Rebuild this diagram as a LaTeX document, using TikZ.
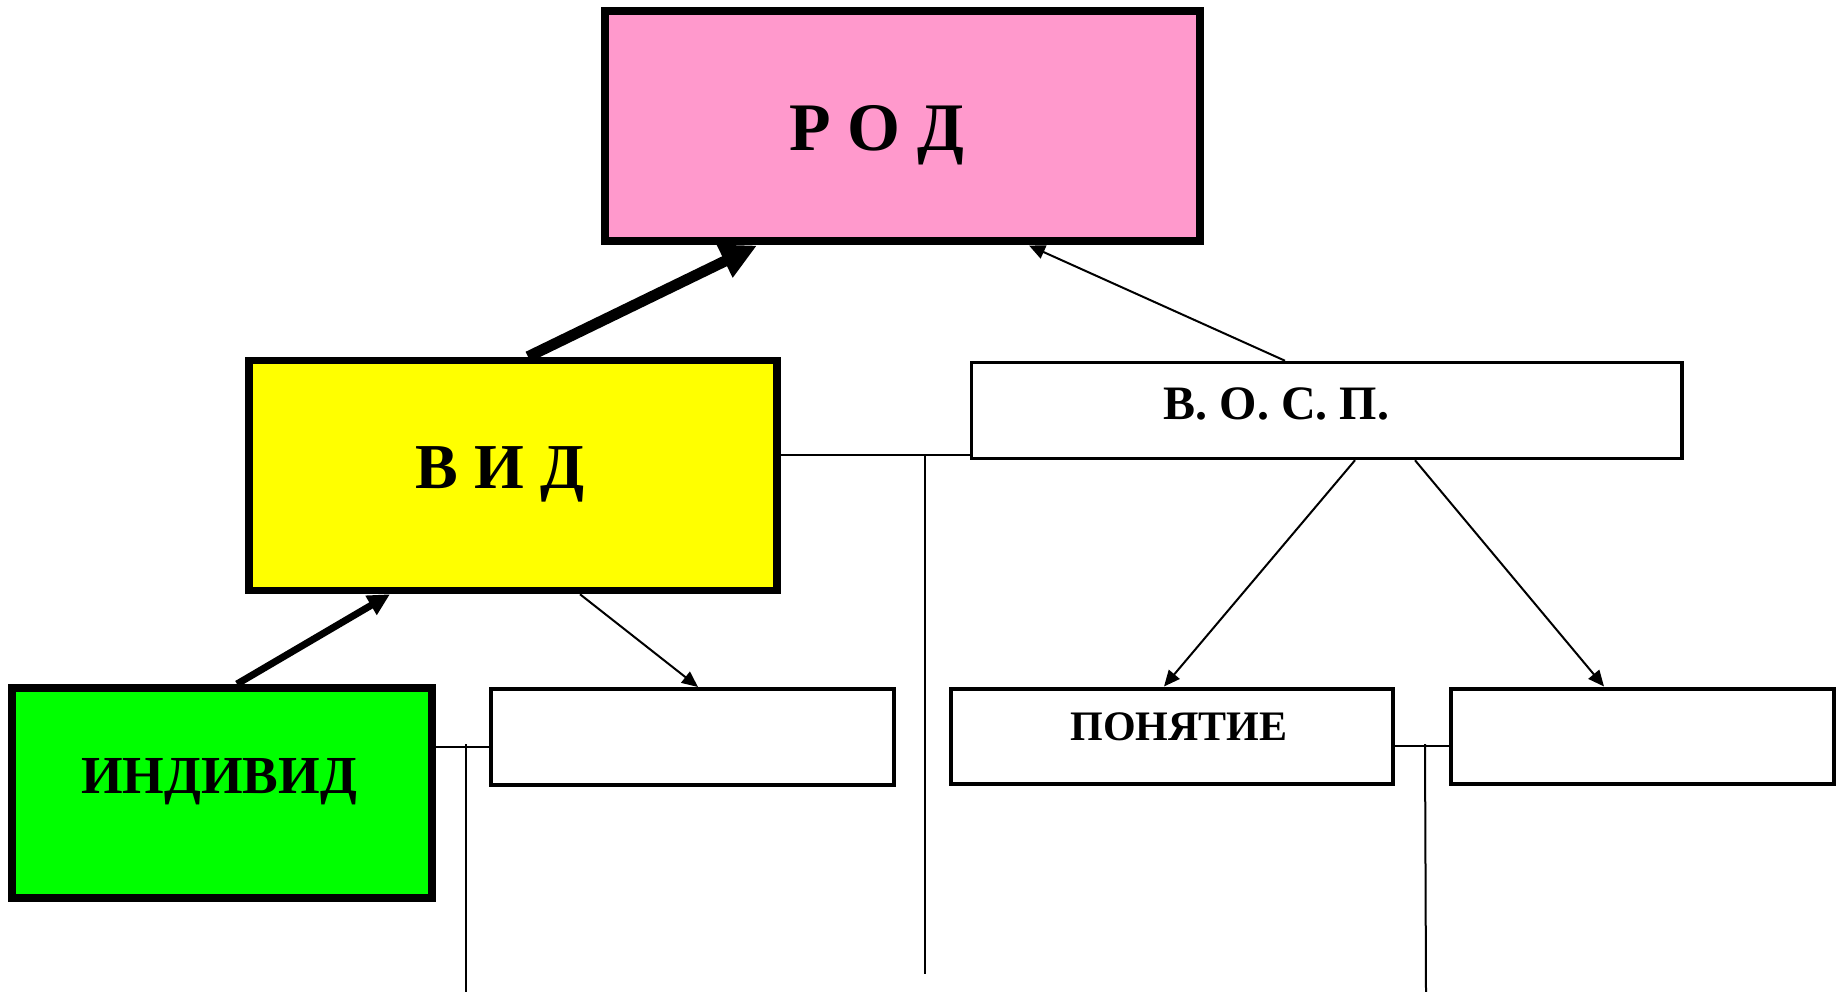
\documentclass[tikz,border=0pt]{standalone}
\usepackage{fontspec}
\setmainfont{Liberation Serif}
\usetikzlibrary{arrows.meta}
\definecolor{rodpink}{HTML}{FF99CC}
\definecolor{vidyellow}{HTML}{FFFF00}
\definecolor{indgreen}{HTML}{00FF00}
\tikzset{
  box/.style={draw=black, rectangle, inner sep=0pt, outer sep=auto},
  bigbox/.style={box, line width=8pt},
  smallbox/.style={box, line width=4pt, fill=white},
  lbl/.style={inner sep=0pt, anchor=base, font=\bfseries},
  conn/.style={line width=2pt, draw=black},
  thinarrow/.style={conn, -{Triangle[length=16pt,width=14pt]}},
}
\begin{document}
\begin{tikzpicture}[x=1pt, y=-1pt]
  \useasboundingbox (0,0) rectangle (1839,992);
  \fill[white] (0,0) rectangle (1839,992);

  % boxes
  \node[bigbox, fill=rodpink, minimum width=594.5pt, minimum height=230pt] (rod) at (902.25,126.5) {};
  \node[bigbox, line width=7.5pt, fill=vidyellow, minimum width=528pt, minimum height=230pt] (vid) at (513,475.5) {};
  \node[bigbox, fill=indgreen, minimum width=419.5pt, minimum height=209.5pt] (ind) at (221.75,792.75) {};
  \node[smallbox, line width=3.5pt, minimum width=710.5pt, minimum height=96pt] (vosp) at (1326.75,410.5) {};
  \node[smallbox, minimum width=403pt, minimum height=96pt] (e1) at (692.5,737) {};
  \node[smallbox, minimum width=442pt, minimum height=95.5pt] (pon) at (1172,736.25) {};
  \node[smallbox, minimum width=383pt, minimum height=95.5pt] (e2) at (1642.5,736.25) {};

  % labels
  \node[lbl, font=\bfseries\fontsize{68}{80}\selectfont] (rodtxt) at (877,151) {Р О Д};
  \node[lbl, font=\bfseries\fontsize{64}{75}\selectfont] (vidtxt) at (500,488) {В И Д};
  \node[lbl, font=\bfseries\fontsize{53.5}{62}\selectfont] (indtxt) at (219,793) {ИНДИВИД};
  \node[lbl, font=\bfseries\fontsize{48}{56}\selectfont] (vosptxt) at (1276.5,419) {В. О. С. П.};
  \node[lbl, font=\bfseries\fontsize{42}{50}\selectfont] (pontxt) at (1179,740) {ПОНЯТИЕ};

  % thick arrows up the hierarchy
  \draw[line width=11pt, -{Triangle[length=36pt,width=34pt]}]
    ([xshift=15pt]vid.north) -- ([xshift=-145.25pt]rod.south);
  \draw[line width=7pt, -{Triangle[length=22pt,width=21pt]}]
    ([xshift=15.25pt]ind.north) -- ([xshift=-123pt]vid.south);

  % thin arrows
  \draw[thinarrow] ([xshift=-41.75pt]vosp.north) -- ([xshift=126.75pt]rod.south);
  \draw[thinarrow] ([xshift=67pt]vid.south) -- ([xshift=5.5pt]e1.north);
  \draw[thinarrow] ([xshift=28.25pt]vosp.south) -- ([xshift=-8pt]pon.north);
  \draw[thinarrow] ([xshift=88.25pt]vosp.south) -- ([xshift=-38.5pt]e2.north);

  % horizontal links and vertical drops
  \coordinate (j1) at ([yshift=20.5pt]vid.east);
  \draw[conn] (j1) -- (j1 -| vosp.west);
  \coordinate (d1a) at (925,455);
  \coordinate (d1b) at (925,974);
  \draw[conn] (d1a) -- (d1b);

  \coordinate (j2) at ([yshift=45.75pt]ind.east);
  \draw[conn] (j2) -- (j2 -| e1.west);
  \coordinate (d2a) at (466,744);
  \coordinate (d2b) at (466,992);
  \draw[conn] (d2a) -- (d2b);

  \coordinate (j3) at ([yshift=-9.75pt]pon.east);
  \draw[conn] (j3) -- (j3 -| e2.west);
  \coordinate (d3a) at (1425,744);
  \coordinate (d3b) at (1426,992);
  \draw[conn] (d3a) -- (d3b);
\end{tikzpicture}
\end{document}
